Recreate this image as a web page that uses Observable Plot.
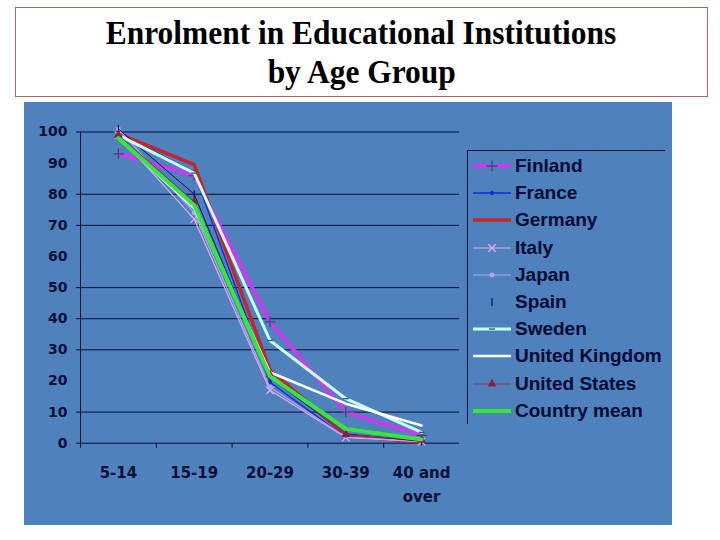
<!DOCTYPE html>
<html><head><meta charset="utf-8">
<script src="https://cdn.jsdelivr.net/npm/d3@7"></script>
<script src="https://cdn.jsdelivr.net/npm/@observablehq/plot@0.6"></script>
<style>
body{margin:0;background:#fff;width:720px;height:540px;position:relative;overflow:hidden}
#title{position:absolute;left:15px;top:7px;width:693px;height:90px;box-sizing:border-box;border:1px solid #a86868;text-align:center;font-family:"Liberation Serif","Times New Roman",serif;font-weight:bold;font-size:34px;line-height:38.5px;padding-top:6px;color:#000}
#title span{display:inline-block;transform:scaleX(0.925);transform-origin:50% 50%;white-space:nowrap}
#panel{position:absolute;left:24px;top:102px;width:648px;height:423px;background:#4f81bd}
#panel svg.plot{position:absolute;left:0;top:0}
#legend{position:absolute;left:443px;top:48px;width:197px;height:273px;border-left:1px solid #0b0f35;border-top:1px solid #0b0f35;font-family:"Liberation Sans",Arial,sans-serif;font-weight:bold;font-size:19px;color:#000a33}
.row{position:absolute;left:0;height:22px;display:flex;align-items:center;white-space:nowrap}
.row svg{margin-left:5px;margin-right:4px}
</style>
</head><body>
<div id="title"><span>Enrolment in Educational Institutions</span><br><span>by Age Group</span></div>
<div id="panel"><div id="legend"></div></div>
<script>
// ---- data ----
const ageGroups = ["5-14", "15-19", "20-29", "30-39", "40 and over"];
const seriesNames = ["Finland", "France", "Germany", "Italy", "Japan", "Spain", "Sweden", "United Kingdom", "United States", "Country mean"];
const finland = [93, 86, 39, 10, 2.5];
const france = [100, 87, 19.6, 1.8, 0.5];
const germany = [99.5, 89.5, 23.6, 2.5, 0.3];
const italy = [99, 72, 17, 1.8, 0.5];
const japan = [101, 74, 18, 2, 0.5];
const spain = [101, 80, 21, 3, 0.6];
const sweden = [99, 86.8, 33, 14.3, 3.5];
const unitedKingdom = [98, 75.5, 22.8, 12.7, 5.7];
const unitedStates = [99, 77.5, 22, 2.8, 1];
const countryMean = [98, 76.5, 21.5, 4.6, 1.2];
const seriesValues = [finland, france, germany, italy, japan, spain, sweden, unitedKingdom, unitedStates, countryMean];
const yTickLabels = [0, 10, 20, 30, 40, 50, 60, 70, 80, 90, 100];
const gridValues = [0, 10, 30, 40, 50, 70, 80, 100];

// ---- styles ----
const seriesColors = ["#c93cee", "#1030d8", "#c4262c", "#e4aaea", "#b9a2f6", "#0a1660", "#c8fff0", "#ffffff", "#7a3c72", "#33e838"];
const seriesWidths = [4, 1.4, 3.5, 1.2, 1.2, 1, 3, 2.5, 1.2, 4];
const seriesMarkers = ["plus", "circle", null, "times", "circle", "vline", "hline", null, "triangle", null];
const markerColors = ["#1d5a78", "#1030d8", null, "#e4aaea", "#b9a2f6", "#0a1660", "#1d6a3a", null, "#8a2040", null];
const markerSizes = [3.5, 1.5, 0, 3.5, 1.8, 4, 3, 0, 2.5, 0];
const ink = "#0b0f35";

const vline = {draw(ctx, size) {const r = Math.sqrt(size / Math.PI); ctx.moveTo(0, -r); ctx.lineTo(0, r);}};
const hline = {draw(ctx, size) {const r = Math.sqrt(size / Math.PI); ctx.moveTo(-r, 0); ctx.lineTo(r, 0);}};
const plotSymbol = {plus: "plus", times: "times", circle: "circle", triangle: "triangle", vline, hline};
const d3Symbol = {plus: d3.symbolPlus, times: d3.symbolTimes, circle: d3.symbolCircle, triangle: d3.symbolTriangle, vline, hline};
const filledMarker = {circle: true, triangle: true};

const rows = seriesNames.flatMap((name, i) => ageGroups.map((g, j) => ({series: name, group: j, value: seriesValues[i][j]})));

const marks = [
  Plot.ruleY(gridValues, {stroke: ink, strokeWidth: 1}),
  Plot.ruleX([-0.5], {y1: 0, y2: 100, stroke: ink, strokeWidth: 1}),
  Plot.axisY(gridValues, {tickSize: 4, tickFormat: () => "", stroke: ink, label: null}),
  Plot.axisY(yTickLabels, {tickSize: 0, tickPadding: 13, fontSize: 14, fontWeight: "bold", fill: ink, label: null}),
  Plot.axisX(d3.range(ageGroups.length).map(i => i - 0.5), {tickSize: 5, tickFormat: () => "", stroke: ink, label: null}),
  Plot.text(ageGroups, {x: (d, i) => i, frameAnchor: "bottom", dy: 18, lineAnchor: "top", lineWidth: 4.5, lineHeight: 1.6, fontSize: 15, fontWeight: "bold", fill: ink})
];
seriesNames.forEach((name, i) => {
  const sub = rows.filter(d => d.series === name);
  marks.push(Plot.line(sub, {x: "group", y: "value", stroke: seriesColors[i], strokeWidth: seriesWidths[i]}));
  if (seriesMarkers[i]) {
    const m = seriesMarkers[i];
    marks.push(Plot.dot(sub, {x: "group", y: "value", symbol: plotSymbol[m], r: markerSizes[i], stroke: markerColors[i], strokeWidth: 1.3, fill: filledMarker[m] ? markerColors[i] : "none"}));
  }
});

const chart = Plot.plot({
  width: 648, height: 423,
  marginLeft: 56, marginRight: 213, marginTop: 29.5, marginBottom: 82.3,
  x: {domain: [-0.5, 4.5]},
  y: {domain: [0, 100]},
  style: {background: "transparent", overflow: "visible", fontFamily: "'DejaVu Sans', Verdana, sans-serif", color: ink},
  marks
});
chart.classList.add("plot");
document.getElementById("panel").insertBefore(chart, document.getElementById("legend"));

// ---- legend ----
const legend = d3.select("#legend");
seriesNames.forEach((name, i) => {
  const row = legend.append("div").attr("class", "row").style("top", (15 - 11 + i * 27.2) + "px");
  const svg = row.append("svg").attr("width", 38).attr("height", 14);
  if (name !== "Spain") {
    svg.append("line").attr("x1", 0).attr("x2", 38).attr("y1", 7).attr("y2", 7)
      .attr("stroke", seriesColors[i]).attr("stroke-width", seriesWidths[i]);
  }
  if (seriesMarkers[i]) {
    const m = seriesMarkers[i];
    const size = Math.PI * markerSizes[i] * markerSizes[i];
    svg.append("path").attr("transform", "translate(19,7)")
      .attr("d", d3.symbol(d3Symbol[m], size)())
      .attr("stroke", markerColors[i]).attr("stroke-width", 1.3)
      .attr("fill", filledMarker[m] ? markerColors[i] : "none");
  }
  row.append("span").text(name);
});
</script>
</body></html>
